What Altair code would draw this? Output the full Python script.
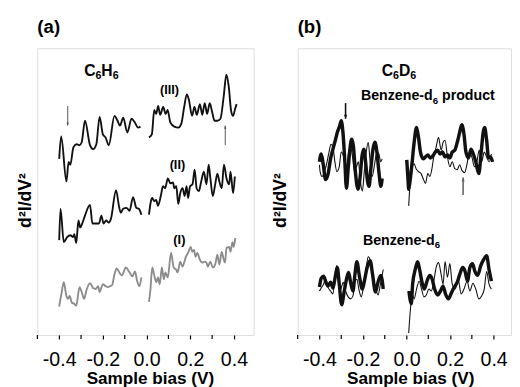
import altair as alt
import pandas as pd

FONT = "Liberation Sans"

# ---------------- Panel (a): C6H6, spectra (I)-(III) ----------------
# bias in V, d2I/dV2 in arbitrary units (offset spectra)
a3_neg_v = [-0.400, -0.391, -0.367, -0.357, -0.349, -0.335, -0.319, -0.307, -0.297, -0.282, -0.259, -0.245, -0.230,
            -0.215, -0.200, -0.188, -0.173, -0.147, -0.133, -0.122, -0.107, -0.088, -0.069, -0.053, -0.039, -0.028]
a3_neg_y = [180, 203, 157, 177, 174, 192, 195, 194, 197, 219, 194, 190, 195,
            223, 205, 202, 194, 224, 219, 214, 222, 207, 221, 217, 212, 213]
a3_pos_v = [0.011, 0.024, 0.035, 0.044, 0.053, 0.062, 0.076, 0.087, 0.096, 0.109, 0.127, 0.145, 0.159, 0.172,
            0.184, 0.194, 0.208, 0.219, 0.230, 0.244, 0.255, 0.266, 0.277, 0.289, 0.300, 0.311, 0.324, 0.338,
            0.353, 0.365, 0.376, 0.387, 0.396, 0.405, 0.412]
a3_pos_y = [202, 205, 230, 226, 234, 225, 233, 226, 230, 217, 213, 212, 216, 233,
            246, 240, 224, 233, 225, 236, 225, 237, 226, 237, 228, 219, 219, 221,
            244, 266, 254, 229, 224, 231, 236]

a2_neg_v = [-0.400, -0.394, -0.379, -0.364, -0.349, -0.337, -0.331, -0.322, -0.312, -0.304, -0.293, -0.282, -0.259,
            -0.248, -0.233, -0.218, -0.207, -0.197, -0.185, -0.173, -0.163, -0.140, -0.125, -0.118, -0.107, -0.092,
            -0.078, -0.062, -0.047, -0.035, -0.024]
a2_neg_y = [97, 129, 95, 100, 102, 100, 103, 94, 117, 110, 115, 122, 133,
            114, 114, 114, 122, 114, 117, 115, 119, 148, 130, 125, 129, 130,
            127, 141, 130, 129, 123]
a2_pos_v = [0.011, 0.020, 0.026, 0.035, 0.044, 0.052, 0.065, 0.075, 0.085, 0.097, 0.109, 0.121, 0.127, 0.136,
            0.145, 0.154, 0.165, 0.174, 0.183, 0.190, 0.199, 0.210, 0.220, 0.229, 0.239, 0.250, 0.262, 0.274,
            0.284, 0.292, 0.303, 0.314, 0.324, 0.333, 0.344, 0.354, 0.366, 0.378, 0.384, 0.396, 0.404]
a2_pos_y = [123, 137, 140, 137, 138, 132, 142, 152, 150, 160, 155, 156, 150, 152,
            134, 145, 150, 142, 152, 140, 152, 154, 169, 150, 147, 157, 167, 154,
            174, 160, 142, 154, 165, 157, 150, 174, 160, 154, 167, 145, 162]

a1_neg_v = [-0.400, -0.390, -0.379, -0.367, -0.360, -0.352, -0.342, -0.331, -0.322, -0.307, -0.297, -0.286, -0.275,
            -0.259, -0.245, -0.233, -0.222, -0.215, -0.200, -0.188, -0.177, -0.167, -0.158, -0.147, -0.137, -0.125,
            -0.113, -0.095, -0.078, -0.065, -0.053, -0.043, -0.033, -0.024]
a1_neg_y = [29, 42, 54, 40, 37, 40, 33, 32, 30, 49, 44, 37, 46,
            53, 48, 47, 50, 44, 52, 50, 49, 50, 51, 62, 68, 64,
            61, 69, 64, 60, 65, 55, 50, 59]
a1_pos_v = [0.011, 0.017, 0.026, 0.034, 0.045, 0.052, 0.060, 0.070, 0.079, 0.086, 0.097, 0.112, 0.124, 0.135,
            0.142, 0.154, 0.164, 0.180, 0.190, 0.202, 0.209, 0.217, 0.224, 0.232, 0.244, 0.254, 0.265, 0.274,
            0.280, 0.292, 0.303, 0.314, 0.324, 0.333, 0.344, 0.351, 0.359, 0.366, 0.378, 0.384, 0.393, 0.399, 0.406]
a1_pos_y = [34, 45, 69, 62, 54, 59, 52, 69, 57, 64, 59, 84, 69, 67,
            64, 75, 70, 80, 84, 90, 85, 87, 80, 84, 77, 74, 75, 74,
            70, 75, 69, 72, 82, 72, 85, 79, 74, 89, 90, 85, 95, 90, 99]

# ---------------- Panel (b): C6D6, thick and thin spectra ----------------
bp_neg_thick_v = [-0.400, -0.392, -0.383, -0.372, -0.361, -0.349, -0.338, -0.327, -0.318, -0.308, -0.300, -0.292,
                  -0.284, -0.276, -0.268, -0.260, -0.252, -0.244, -0.235, -0.223, -0.212, -0.205, -0.196, -0.188,
                  -0.179, -0.172, -0.163, -0.154, -0.145, -0.136, -0.127, -0.118, -0.112]
bp_neg_thick_y = [177, 185, 175, 159, 164, 180, 190, 199, 207, 213, 219, 207,
                  180, 150, 170, 190, 200, 193, 167, 149, 164, 182, 190, 177,
                  157, 152, 172, 190, 197, 187, 167, 152, 160]
bp_neg_thin_v = [-0.400, -0.397, -0.388, -0.374, -0.365, -0.356, -0.347, -0.338, -0.329, -0.320, -0.309, -0.300,
                 -0.289, -0.277, -0.266, -0.257, -0.248, -0.239, -0.230, -0.221, -0.212, -0.203, -0.194, -0.185,
                 -0.176, -0.167, -0.158, -0.145, -0.136, -0.127, -0.118, -0.112]
bp_neg_thin_y = [174, 167, 162, 169, 177, 187, 195, 192, 177, 167, 172, 187,
                 182, 167, 187, 192, 182, 167, 172, 177, 157, 147, 167, 187,
                 197, 177, 162, 177, 187, 185, 177, 180]
bp_pos_thick_v = [0.001, 0.006, 0.010, 0.017, 0.026, 0.035, 0.046, 0.055, 0.064, 0.076, 0.087, 0.098, 0.109,
                  0.121, 0.132, 0.143, 0.154, 0.165, 0.177, 0.188, 0.199, 0.210, 0.222, 0.233, 0.244, 0.254,
                  0.264, 0.273, 0.285, 0.296, 0.307, 0.318, 0.332, 0.343, 0.352, 0.359, 0.368, 0.377, 0.386, 0.395]
bp_pos_thick_y = [179, 162, 149, 159, 177, 197, 212, 202, 187, 180, 182, 184, 181,
                  183, 187, 189, 185, 187, 182, 184, 181, 187, 189, 197, 207, 215,
                  205, 187, 181, 190, 185, 177, 165, 187, 207, 212, 199, 181, 182, 177]
bp_pos_thin_v = [0.010, 0.017, 0.026, 0.035, 0.044, 0.055, 0.067, 0.078, 0.087, 0.098, 0.107, 0.116, 0.125,
                 0.136, 0.147, 0.159, 0.168, 0.177, 0.188, 0.199, 0.210, 0.222, 0.233, 0.244, 0.255, 0.267,
                 0.278, 0.289, 0.300, 0.312, 0.323, 0.334, 0.345, 0.357, 0.368, 0.379, 0.390]
bp_pos_thin_y = [132, 157, 172, 175, 170, 167, 165, 159, 155, 165, 162, 169, 182,
                 192, 202, 189, 197, 199, 182, 172, 177, 170, 169, 174, 168, 166,
                 175, 187, 182, 172, 177, 189, 177, 187, 182, 177, 185]

bb_neg_thick_v = [-0.400, -0.392, -0.381, -0.370, -0.361, -0.349, -0.338, -0.327, -0.318, -0.309, -0.298, -0.286,
                  -0.275, -0.266, -0.257, -0.246, -0.237, -0.228, -0.217, -0.203, -0.192, -0.181, -0.167, -0.156,
                  -0.143, -0.131, -0.118, -0.107]
bb_neg_thick_y = [49, 58, 60, 54, 50, 54, 48, 60, 69, 52, 31, 45,
                  58, 64, 54, 45, 62, 75, 61, 47, 57, 69, 76, 62,
                  44, 54, 61, 47]
bb_neg_thin_v = [-0.400, -0.392, -0.381, -0.372, -0.361, -0.349, -0.338, -0.329, -0.321, -0.311, -0.302, -0.291,
                 -0.280, -0.268, -0.257, -0.246, -0.237, -0.228, -0.219, -0.208, -0.196, -0.185, -0.176, -0.165,
                 -0.154, -0.143, -0.131, -0.120, -0.107]
bb_neg_thin_y = [45, 48, 52, 57, 49, 45, 42, 59, 71, 59, 47, 54,
                 45, 39, 37, 40, 55, 57, 47, 39, 52, 69, 80, 75,
                 57, 49, 41, 52, 67]
bb_pos_thick_v = [0.011, 0.022, 0.028, 0.040, 0.051, 0.060, 0.071, 0.082, 0.094, 0.107, 0.118, 0.129, 0.143,
                  0.156, 0.168, 0.179, 0.192, 0.206, 0.219, 0.233, 0.246, 0.258, 0.269, 0.280, 0.291, 0.303,
                  0.314, 0.327, 0.341, 0.354, 0.368, 0.379, 0.390]
bb_pos_thick_y = [45, 32, 52, 67, 75, 67, 54, 47, 55, 61, 57, 47, 41,
                  45, 50, 42, 37, 43, 49, 54, 63, 69, 65, 55, 69, 73,
                  65, 61, 71, 77, 81, 67, 55]
bb_pos_thin_v = [0.010, 0.017, 0.026, 0.035, 0.046, 0.058, 0.069, 0.080, 0.091, 0.103, 0.114, 0.125, 0.136,
                 0.147, 0.159, 0.168, 0.177, 0.188, 0.199, 0.210, 0.224, 0.237, 0.251, 0.264, 0.278, 0.291,
                 0.305, 0.318, 0.332, 0.345, 0.357, 0.368, 0.379, 0.390]
bb_pos_thin_y = [2, 24, 41, 37, 47, 55, 47, 39, 41, 47, 45, 55, 69,
                 74, 62, 52, 75, 59, 73, 52, 47, 57, 42, 47, 55, 45,
                 53, 47, 37, 40, 47, 65, 52, 47]

# plain annotations (centre position)
a_labels = ["(III)", "(II)", "(I)"]
a_label_v = [0.105, 0.141, 0.150]
a_label_y = [250, 174, 97]

# formula annotations: pieces (text, is_subscript), centre bias, baseline value, size
a_formulas = [([("C", False), ("6", True), ("H", False), ("6", True)], -0.207, 265, 16)]
b_formulas = [([("C", False), ("6", True), ("D", False), ("6", True)], -0.035, 265, 16),
              ([("Benzene-d", False), ("6", True), (" ", False), ("product", False)], 0.098, 240, 14.5),
              ([("Benzene-d", False), ("6", True)], -0.023, 92, 14.5)]

# arrows: bias, tail value, tip value, direction
a_arrow_v = [-0.361, 0.360]
a_arrow_tail = [234, 194]
a_arrow_tip = [214, 214]
a_arrow_dir = ["down", "up"]
b_arrow_v = [-0.280, 0.260]
b_arrow_tail = [237, 143]
b_arrow_tip = [221, 161]
b_arrow_dir = ["down", "up"]

X_LABELLED = [-0.4, -0.2, 0.0, 0.2, 0.4]
X_MINOR = [-0.5, -0.3, -0.1, 0.1, 0.3]

# Arial-bold advance widths (em) used to typeset formula pieces
W = {"C": .722, "H": .722, "D": .722, "B": .722, "e": .556, "n": .611, "z": .5, "-": .333, "d": .611,
     " ": .278, "p": .611, "r": .389, "o": .611, "u": .611, "c": .556, "t": .333, "6": .556}


def seg(rows, v, y, name, style):
    for vi, yi in zip(v, y):
        rows.append({"v": vi, "y": yi, "seg": name, "style": style})


rows_a = []
seg(rows_a, a3_neg_v, a3_neg_y, "3n", "black")
seg(rows_a, a3_pos_v, a3_pos_y, "3p", "black")
seg(rows_a, a2_neg_v, a2_neg_y, "2n", "black")
seg(rows_a, a2_pos_v, a2_pos_y, "2p", "black")
seg(rows_a, a1_neg_v, a1_neg_y, "1n", "gray")
seg(rows_a, a1_pos_v, a1_pos_y, "1p", "gray")
df_a = pd.DataFrame(rows_a)

rows_b = []
seg(rows_b, bp_neg_thick_v, bp_neg_thick_y, "pnk", "thick")
seg(rows_b, bp_neg_thin_v, bp_neg_thin_y, "pnt", "thin")
seg(rows_b, bp_pos_thick_v, bp_pos_thick_y, "ppk", "thick")
seg(rows_b, bp_pos_thin_v, bp_pos_thin_y, "ppt", "thin")
seg(rows_b, bb_neg_thick_v, bb_neg_thick_y, "bnk", "thick")
seg(rows_b, bb_neg_thin_v, bb_neg_thin_y, "bnt", "thin")
seg(rows_b, bb_pos_thick_v, bb_pos_thick_y, "bpk", "thick")
seg(rows_b, bb_pos_thin_v, bb_pos_thin_y, "bpt", "thin")
df_b = pd.DataFrame(rows_b)

lab_a = pd.DataFrame({"t": a_labels, "v": a_label_v, "y": a_label_y})
arr_a = pd.DataFrame({"v": a_arrow_v, "y": a_arrow_tail, "y2": a_arrow_tip, "d": a_arrow_dir})
arr_b = pd.DataFrame({"v": b_arrow_v, "y": b_arrow_tail, "y2": b_arrow_tip, "d": b_arrow_dir})
minor_df = pd.DataFrame({"v": X_MINOR})

DOWN_HEAD = "M-0.38,-1L0,0L0.38,-1Z"
UP_HEAD = "M-0.38,1L0,0L0.38,1Z"
YSCALE = alt.Scale(domain=[0, 293], nice=False, zero=False)


def xs(domain):
    return alt.Scale(domain=domain, nice=False, zero=False)


def x_enc(domain):
    return alt.X("v:Q", scale=xs(domain),
                 axis=alt.Axis(values=X_LABELLED, format=".1f", tickSize=4, tickWidth=1.2,
                               tickColor="black", labelFontSize=20, labelFont=FONT, labelColor="black",
                               labelPadding=11, labelOverlap=False, labelFlush=False, domain=False,
                               grid=False, title="Sample bias (V)", titleFont=FONT, titleFontSize=17.5,
                               titleFontWeight="bold", titleColor="black", titleX=115, titleY=36,
                               titleBaseline="top"))


def y_enc(pad):
    return alt.Y("y:Q", scale=YSCALE,
                 axis=alt.Axis(labels=False, ticks=False, domain=False, grid=False,
                               title="d\u00b2I/dV\u00b2", titleFont=FONT, titleFontSize=18,
                               titleFontWeight="bold", titleColor="black", titlePadding=pad,
                               titleY=155))


def minor_ticks(domain):
    return alt.Chart(minor_df).mark_rule(color="black", strokeWidth=1.2).encode(
        x=alt.X("v:Q", scale=xs(domain)), y=alt.value(293), y2=alt.value(297))


def arrows(df, xdom, color, width, head_size):
    base = alt.Chart(df)
    shaft = base.mark_rule(color=color, strokeWidth=width).encode(
        x=alt.X("v:Q", scale=xs(xdom)), y=alt.Y("y:Q", scale=YSCALE), y2="y2:Q")
    down = base.transform_filter(alt.datum.d == "down").mark_point(
        shape=DOWN_HEAD, filled=True, color=color, size=head_size, opacity=1).encode(
        x="v:Q", y="y2:Q")
    up = base.transform_filter(alt.datum.d == "up").mark_point(
        shape=UP_HEAD, filled=True, color=color, size=head_size, opacity=1).encode(
        x="v:Q", y="y2:Q")
    return shaft + down + up


def formula(pieces, v, y, size, xdom):
    sub_size = size * 0.68
    widths = [sum(W[c] for c in s) * (sub_size if sub else size) for s, sub in pieces]
    offset = -sum(widths) / 2
    df = pd.DataFrame({"v": [v], "y": [y]})
    layers = []
    for (s, sub), w in zip(pieces, widths):
        if s.strip():
            layers.append(alt.Chart(df).mark_text(
                text=s, align="left", baseline="alphabetic", dx=offset, dy=(size * 0.24 if sub else 0),
                fontSize=(sub_size if sub else size), font=FONT, fontWeight="bold", color="black").encode(
                x=alt.X("v:Q", scale=xs(xdom)), y=alt.Y("y:Q", scale=YSCALE)))
        offset += w
    return layers


XA = [-0.5, 0.49]
XB = [-0.5, 0.48]

lines_a = alt.Chart(df_a).mark_line(strokeWidth=1.9, interpolate="monotone").encode(
    x=x_enc(XA), y=y_enc(3), detail="seg:N",
    color=alt.Color("style:N", scale=alt.Scale(domain=["black", "gray"], range=["#111111", "#8c8c8c"]),
                    legend=None))
text_a = alt.Chart(lab_a).mark_text(font=FONT, fontWeight="bold", color="black", align="center",
                                    baseline="middle", fontSize=13).encode(
    x=alt.X("v:Q", scale=xs(XA)), y=alt.Y("y:Q", scale=YSCALE), text="t:N")
layers_a = [lines_a, minor_ticks(XA), text_a, arrows(arr_a, XA, "#555555", 1, 40)]
for p, v, y, s in a_formulas:
    layers_a += formula(p, v, y, s, XA)
panel_a = alt.layer(*layers_a).properties(
    width=221, height=293,
    title=alt.TitleParams("(a)", anchor="start", frame="group", fontSize=19, fontWeight="bold",
                          font=FONT, color="black", offset=12))

lines_b = alt.Chart(df_b).mark_line(color="#111111", interpolate="monotone").encode(
    x=x_enc(XB), y=y_enc(8), detail="seg:N",
    strokeWidth=alt.StrokeWidth("style:N", scale=alt.Scale(domain=["thick", "thin"], range=[3.5, 1.1]),
                                legend=None))
layers_b = [lines_b, minor_ticks(XB),
            arrows(arr_b[arr_b.d == "down"], XB, "#111111", 1.6, 70),
            arrows(arr_b[arr_b.d == "up"], XB, "#666666", 1.6, 70)]
for p, v, y, s in b_formulas:
    layers_b += formula(p, v, y, s, XB)
panel_b = alt.layer(*layers_b).properties(
    width=218, height=293,
    title=alt.TitleParams("(b)", anchor="start", frame="group", fontSize=19, fontWeight="bold",
                          font=FONT, color="black", offset=12))

chart = alt.hconcat(panel_a, panel_b, spacing=17).properties(
    padding={"left": 8, "top": 5, "right": 0, "bottom": 0}
).configure_view(stroke="black", strokeWidth=1.5).configure(
    background="white",
    locale={"number": {"decimal": ".", "thousands": ",", "grouping": [3], "currency": ["$", ""],
                       "minus": "-"}})

chart.save("out.html", embed_options={"renderer": "svg", "actions": False})
